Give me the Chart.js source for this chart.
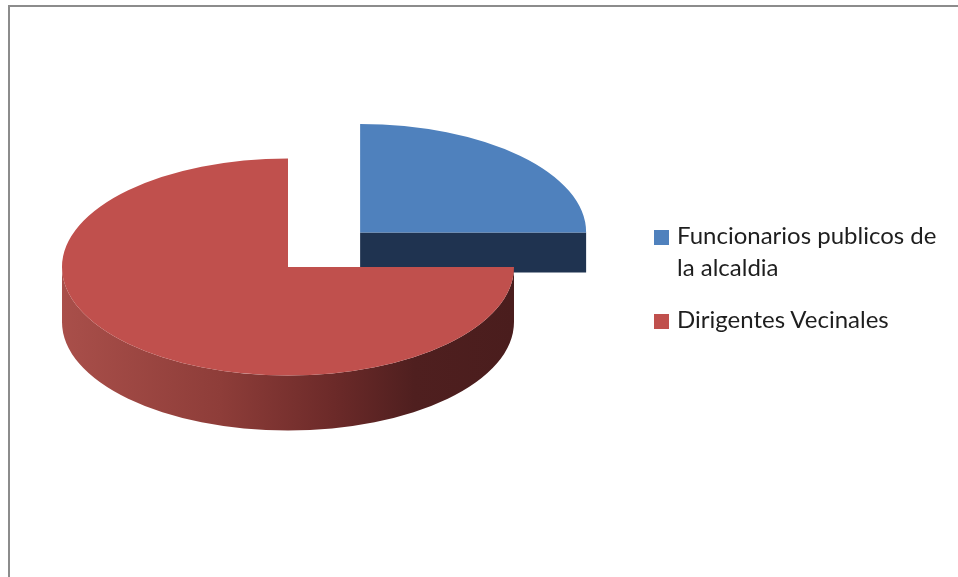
<!DOCTYPE html>
<html>
<head>
<meta charset="utf-8">
<script src="https://cdn.jsdelivr.net/npm/chart.js@4.4.0/dist/chart.umd.min.js"></script>
<style>
    html, body { margin: 0; padding: 0; background: #fff; }
    #wrap { position: relative; width: 958px; height: 577px; overflow: hidden; }
    #frame {
        position: absolute; left: 8px; top: 5px; width: 1000px; height: 700px;
        border: 2px solid #8c8c8c; box-sizing: border-box;
    }
    #pieChart { position: absolute; left: 0; top: 0; }
    #legend {
        position: absolute; left: 654px; top: 219px; width: 300px;
        font-family: Lato, sans-serif; font-size: 24px; color: #1e1e1e;
    }
    .item { display: flex; align-items: flex-start; line-height: 32px; margin-bottom: 20px; }
    .box { width: 15px; height: 15px; flex: none; margin-top: 11px; margin-right: 8px; }
</style>
</head>
<body>
<div id="wrap">
    <div id="frame"></div>
    <canvas id="pieChart" width="958" height="577"></canvas>
    <div id="legend"></div>
</div>
<script>
// Data
const labels = ['Funcionarios publicos de la alcaldia', 'Dirigentes Vecinales'];
const shares = [25, 75];

// Styles
const topColors = ['#4f81bd', '#c0504d'];
const sideColors = ['#1f3350', '#4c1e1e'];
const sideDepth = [40, 55];   // px on screen
const explode = [408, 0];
const TILT = 0.48;            // vertical squash of the pie disc

// Draws the extruded sides under each slice and squashes the disc into an ellipse
const pie3d = {
    id: 'pie3d',
    beforeDatasetsDraw(chart) {
        const ctx = chart.ctx;
        const arcs = chart.getDatasetMeta(0).data;
        const cy = arcs[0].y;
        ctx.save();
        ctx.translate(0, cy);
        ctx.scale(1, TILT);
        ctx.translate(0, -cy);

        arcs.forEach((arc, i) => {
            const { x, y, startAngle, endAngle, outerRadius: r } = arc;
            const mid = (startAngle + endAngle) / 2;
            const shift = (arc.options.offset || 0) / 4;
            const ox = x + Math.cos(mid) * shift;
            const oy = y + Math.sin(mid) * shift;
            const d = sideDepth[i] / TILT;

            // radial cut faces that look toward the viewer
            [[startAngle, Math.cos(startAngle) < -0.01], [endAngle, Math.cos(endAngle) > 0.01]].forEach(([a, show]) => {
                if (!show) return;
                const ex = ox + Math.cos(a) * r;
                const ey = oy + Math.sin(a) * r;
                ctx.beginPath();
                ctx.moveTo(ox, oy);
                ctx.lineTo(ex, ey);
                ctx.lineTo(ex, ey + d);
                ctx.lineTo(ox, oy + d);
                ctx.closePath();
                ctx.fillStyle = sideColors[i];
                ctx.fill();
            });

            // front part of the outer rim (angles 0..PI)
            const a0 = Math.max(startAngle, 0);
            const a1 = Math.min(endAngle, Math.PI);
            if (a1 > a0) {
                const g = ctx.createLinearGradient(ox - r, 0, ox + r, 0);
                g.addColorStop(0, '#a94f4a');
                g.addColorStop(0.35, '#8e3d39');
                g.addColorStop(0.6, '#6c2a29');
                g.addColorStop(0.78, '#4f1f1f');
                g.addColorStop(1, '#4a1d1d');
                ctx.beginPath();
                ctx.arc(ox, oy, r, a0, a1, false);
                ctx.lineTo(ox + Math.cos(a1) * r, oy + Math.sin(a1) * r + d);
                ctx.arc(ox, oy + d, r, a1, a0, true);
                ctx.closePath();
                ctx.fillStyle = i === 1 ? g : sideColors[i];
                ctx.fill();
            }
        });
    },
    afterDatasetsDraw(chart) {
        chart.ctx.restore();
    }
};

new Chart(document.getElementById('pieChart'), {
    type: 'pie',
    data: {
        labels: labels,
        datasets: [{
            data: shares,
            backgroundColor: topColors,
            borderWidth: 0,
            offset: explode,
            radius: 226,
            clip: false
        }]
    },
    options: {
        responsive: false,
        animation: false,
        events: [],
        layout: { padding: { left: 40, right: 422, top: 20, bottom: 63 } },
        plugins: {
            legend: { display: false },
            tooltip: { enabled: false }
        }
    },
    plugins: [pie3d]
});

// Legend
const legend = document.getElementById('legend');
labels.forEach((name, i) => {
    const item = document.createElement('div');
    item.className = 'item';
    const box = document.createElement('span');
    box.className = 'box';
    box.style.background = topColors[i];
    const text = document.createElement('span');
    text.textContent = name;
    item.appendChild(box);
    item.appendChild(text);
    legend.appendChild(item);
});
</script>
</body>
</html>
